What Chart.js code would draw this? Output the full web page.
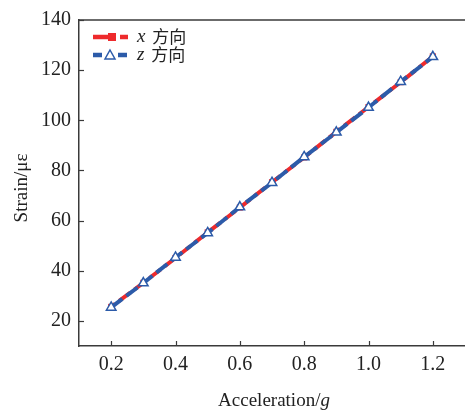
<!DOCTYPE html>
<html>
<head>
<meta charset="utf-8">
<script src="https://cdn.jsdelivr.net/npm/chart.js@4"></script>
<style>
    html, body { margin: 0; padding: 0; background: #fff; overflow: hidden; }
    #wrap { width: 472px; height: 415px; }
</style>
</head>
<body>
<div id="wrap"><canvas id="strainChart"></canvas></div>
<script>
// Acceleration (g) against measured strain for both directions
const accel = [0.2, 0.3, 0.4, 0.5, 0.6, 0.7, 0.8, 0.9, 1.0, 1.1, 1.2];
const strainX = [25.6, 35.2, 45.1, 55.3, 65.2, 75.3, 85.2, 95.4, 105.3, 115.2, 125.5];
const strainZ = [25.4, 35.1, 45.3, 55.1, 65.4, 75.1, 85.4, 95.2, 105.1, 115.4, 125.3];
const xTicks = [0.2, 0.4, 0.6, 0.8, 1.0, 1.2];
const yTicks = [20, 40, 60, 80, 100, 120, 140];
const seriesNames = ['x', 'z'];

const RED = '#ee2a2c';
const BLUE = '#2c5ba9';
const AXIS = '#3a3a3a';
const SERIF = "'Liberation Serif', 'DejaVu Serif', serif";
const CJK = "'Noto Sans CJK SC', sans-serif";

function toPoints(ys) {
    return accel.map((a, i) => ({ x: a, y: ys[i] }));
}

// inward tick marks, top frame line, legend and axis titles
const framePlugin = {
    id: 'frame',
    afterDraw(chart) {
        const ctx = chart.ctx;
        const area = chart.chartArea;
        const xs = chart.scales.x;
        const ys = chart.scales.y;
        ctx.save();
        ctx.strokeStyle = AXIS;
        ctx.lineWidth = 1.5;
        ctx.beginPath();
        ctx.moveTo(area.left, area.top);
        ctx.lineTo(area.right, area.top);
        ctx.stroke();

        ctx.lineWidth = 1.2;
        xs.ticks.forEach(t => {
            const px = Math.round(xs.getPixelForValue(t.value)) + 0.5;
            ctx.beginPath();
            ctx.moveTo(px, area.bottom);
            ctx.lineTo(px, area.bottom - 5);
            ctx.stroke();
        });
        ys.ticks.forEach(t => {
            const py = Math.round(ys.getPixelForValue(t.value)) + 0.5;
            ctx.beginPath();
            ctx.moveTo(area.left, py);
            ctx.lineTo(area.left + 5, py);
            ctx.stroke();
        });

        // legend
        const rows = [
            { name: seriesNames[0], color: RED, y: 37, style: 'rect' },
            { name: seriesNames[1], color: BLUE, y: 55, style: 'triangle' }
        ];
        rows.forEach(r => {
            ctx.strokeStyle = r.color;
            ctx.lineWidth = 4.5;
            ctx.setLineDash(r.style === 'rect' ? [22, 5] : [9, 16]);
            ctx.beginPath();
            ctx.moveTo(93, r.y);
            ctx.lineTo(128, r.y);
            ctx.stroke();
            ctx.setLineDash([]);
            if (r.style === 'rect') {
                ctx.fillStyle = r.color;
                ctx.fillRect(108, r.y - 4, 8, 8);
            } else {
                ctx.fillStyle = '#fff';
                ctx.lineWidth = 1.5;
                ctx.beginPath();
                ctx.moveTo(110, r.y - 5);
                ctx.lineTo(115, r.y + 4);
                ctx.lineTo(105, r.y + 4);
                ctx.closePath();
                ctx.fill();
                ctx.stroke();
            }
            ctx.fillStyle = '#222';
            ctx.textBaseline = 'middle';
            ctx.textAlign = 'left';
            ctx.font = 'italic 19px ' + SERIF;
            ctx.fillText(r.name, 137, r.y);
            const w = ctx.measureText(r.name + ' ').width;
            ctx.font = '17px ' + CJK;
            ctx.fillText('方向', 137 + w + 2, r.y);
        });

        // x axis title with italic unit
        ctx.fillStyle = '#222';
        ctx.textBaseline = 'middle';
        ctx.font = '19px ' + SERIF;
        const main = 'Acceleration/';
        const wMain = ctx.measureText(main).width;
        ctx.font = 'italic 19px ' + SERIF;
        const wUnit = ctx.measureText('g').width;
        const startX = 274 - (wMain + wUnit) / 2;
        ctx.font = '19px ' + SERIF;
        ctx.fillText(main, startX, 401);
        ctx.font = 'italic 19px ' + SERIF;
        ctx.fillText('g', startX + wMain, 401);

        // y axis title
        ctx.translate(22, 188);
        ctx.rotate(-Math.PI / 2);
        ctx.textAlign = 'center';
        ctx.font = '19px ' + SERIF;
        ctx.fillText('Strain/με', 0, 0);
        ctx.restore();
    }
};

new Chart(document.getElementById('strainChart'), {
    type: 'line',
    data: {
        datasets: [
            {
                label: seriesNames[0],
                data: toPoints(strainX),
                borderColor: RED,
                backgroundColor: RED,
                borderWidth: 4,
                borderDash: [14, 5],
                borderDashOffset: 9,
                pointStyle: 'rect',
                pointRadius: 4.3,
                pointBorderWidth: 0,
                pointBackgroundColor: RED,
                order: 2
            },
            {
                label: seriesNames[1],
                data: toPoints(strainZ),
                borderColor: BLUE,
                backgroundColor: '#fff',
                borderWidth: 4,
                borderDash: [14, 5],
                pointStyle: 'triangle',
                pointRadius: 5.5,
                pointBorderWidth: 1.5,
                pointBorderColor: BLUE,
                pointBackgroundColor: '#fff',
                order: 1
            }
        ]
    },
    options: {
        responsive: true,
        maintainAspectRatio: false,
        animation: false,
        layout: { padding: { top: 17, right: 2, left: 0, bottom: 0 } },
        plugins: {
            legend: { display: false },
            tooltip: { enabled: false }
        },
        scales: {
            x: {
                type: 'linear',
                min: 0.1,
                max: 1.3,
                afterBuildTicks(scale) {
                    scale.ticks = xTicks.map(v => ({ value: v }));
                },
                afterFit(scale) { scale.height = 69; },
                grid: { drawOnChartArea: false, drawTicks: false },
                border: { color: AXIS, width: 1.5 },
                ticks: {
                    padding: 7,
                    color: '#222',
                    font: { family: SERIF, size: 20 },
                    callback: v => v.toFixed(1)
                }
            },
            y: {
                min: 10,
                max: 140,
                afterBuildTicks(scale) {
                    scale.ticks = yTicks.map(v => ({ value: v }));
                },
                afterFit(scale) { scale.width = 79; },
                grid: { drawOnChartArea: false, drawTicks: false },
                border: { color: AXIS, width: 1.5 },
                ticks: {
                    padding: 8,
                    color: '#222',
                    font: { family: SERIF, size: 20 }
                }
            }
        }
    },
    plugins: [framePlugin]
});
</script>
</body>
</html>
